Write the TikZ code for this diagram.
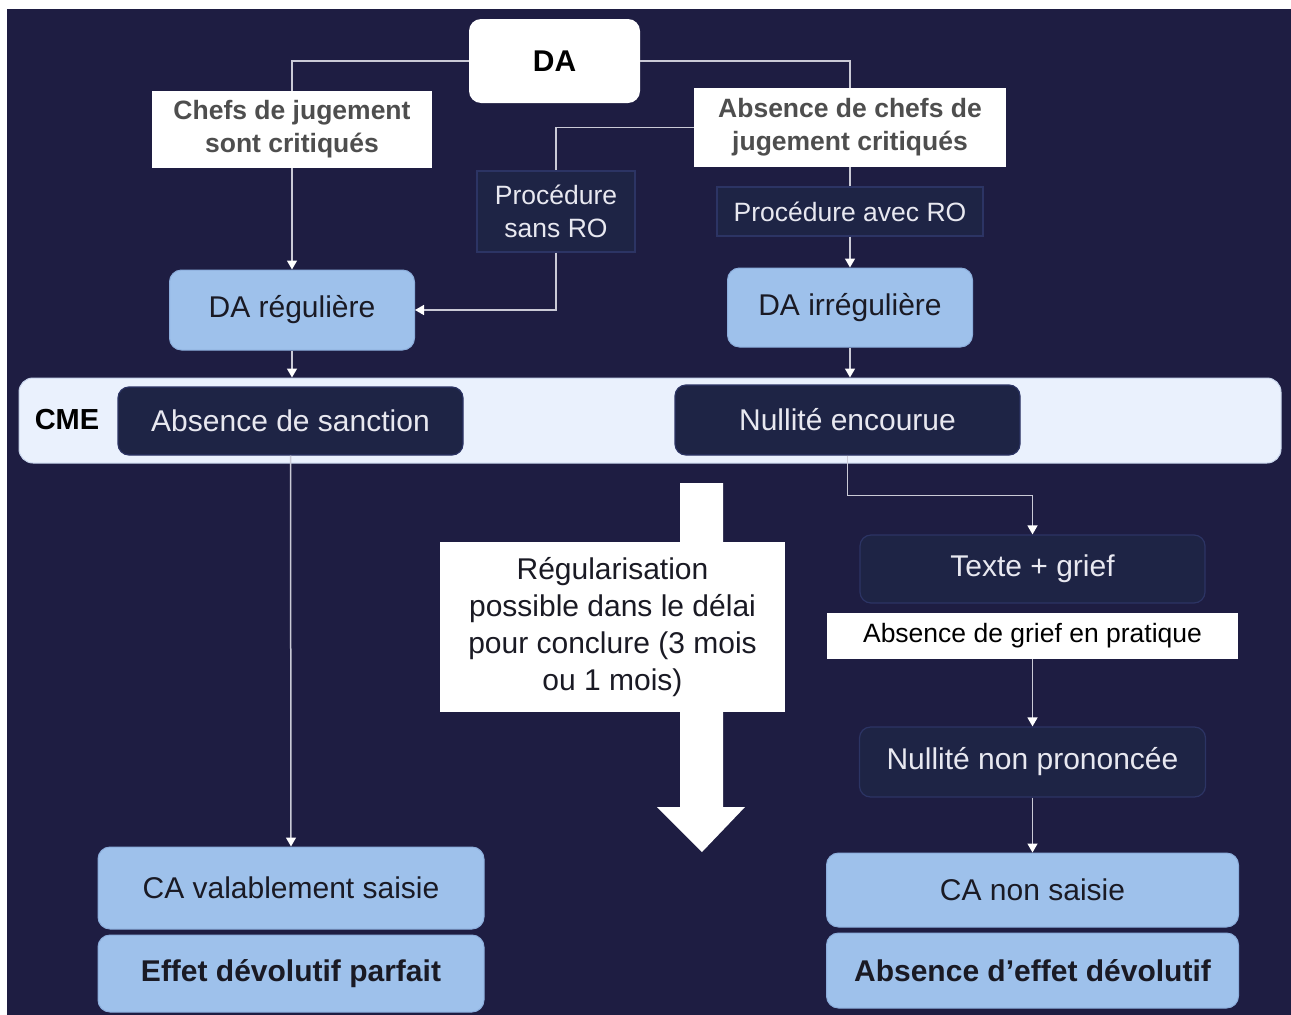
\documentclass[tikz,border=0pt]{standalone}
\usepackage{fontspec}
\setmainfont{Liberation Sans}
\usetikzlibrary{arrows.meta}
\definecolor{bg}{HTML}{1E1D42}
\definecolor{lightblue}{HTML}{9EC1EB}
\definecolor{lbborder}{HTML}{8CAEDC}
\definecolor{band}{HTML}{EAF1FD}
\definecolor{bandborder}{HTML}{C8D5EC}
\definecolor{darkbox}{HTML}{1E2445}
\definecolor{darkborder}{HTML}{2C3464}
\definecolor{conn}{HTML}{CACAD6}
\definecolor{graytext}{HTML}{4E4E4E}
\definecolor{darktext}{HTML}{1A1A24}
\definecolor{lighttext}{HTML}{E8E8F0}
\begin{document}
\begin{tikzpicture}[x=1pt,y=-1pt,
  base/.style={inner sep=0pt, align=center},
  bigfont/.style={font=\fontsize{30}{37}\selectfont},
  smallfont/.style={font=\fontsize{26.5}{33}\selectfont},
  whitelabel/.style={base, fill=white, text=graytext, smallfont, font=\fontsize{26.5}{33}\selectfont\bfseries},
  darklabel/.style={base, fill=darkbox, draw=darkborder, line width=1.2pt, text=lighttext, font=\fontsize{26.5}{33}\selectfont},
  lbbox/.style={base, fill=lightblue, draw=lbborder, line width=1pt, rounded corners=12pt, text=darktext, bigfont},
  dkbox/.style={base, fill=darkbox, draw=darkborder, line width=1.2pt, rounded corners=11pt, text=lighttext, bigfont},
  conline/.style={draw=conn, line width=1.5pt},
  arr/.style={conline, -{Triangle[width=10pt,length=9pt,fill=white,color=white]}}
]
\useasboundingbox (0,0) rectangle (1291,1015);
\fill[white] (0,0) rectangle (1291,1015);
\fill[bg] (7,9) rectangle (1291,1015);

% top
\node[base, fill=white, rounded corners=12pt, minimum width=171pt, minimum height=84pt, text=black, font=\fontsize{30}{36}\selectfont\bfseries] (da) at (554.5,61) {DA};
\node[whitelabel, minimum width=280pt, minimum height=77pt] (chefs) at (292,129.5) {Chefs de jugement\\sont critiqués};
\node[whitelabel, minimum width=312pt, minimum height=79pt] (absc) at (850,127.5) {Absence de chefs de\\jugement critiqués};
\node[darklabel, minimum width=158pt, minimum height=81pt] (psans) at (556,211.5) {Procédure\\sans RO};
\node[darklabel, minimum width=266pt, minimum height=49pt] (pavec) at (850,211.5) {Procédure avec RO};

\node[lbbox, minimum width=245pt, minimum height=80pt] (dareg) at (292,310) {DA régulière};
\node[lbbox, minimum width=245pt, minimum height=79pt] (dairr) at (850,307.5) {DA irrégulière};

% CME band
\node[base, fill=band, draw=bandborder, line width=1pt, rounded corners=14pt, minimum width=1262pt, minimum height=85pt] (band) at (650,420.5) {};
\node[base, text=black, font=\fontsize{29}{34}\selectfont\bfseries] (cme) at (67,420) {CME};
\node[dkbox, minimum width=345pt, minimum height=68pt] (absanc) at (290.5,421) {Absence de sanction};
\node[dkbox, minimum width=345pt, minimum height=70pt] (nullenc) at (847.5,420) {Nullité encourue};

% right column
\node[dkbox, minimum width=345pt, minimum height=68pt] (texte) at (1032.5,569) {Texte + grief};
\node[base, fill=white, text=black, minimum width=411pt, minimum height=46pt, font=\fontsize{26.5}{33}\selectfont] (agrief) at (1032.5,636) {Absence de grief en pratique};
\node[dkbox, minimum width=346pt, minimum height=70pt] (nnp) at (1032.5,762) {Nullité non prononcée};
\node[lbbox, minimum width=412pt, minimum height=74pt] (cans) at (1032.5,890) {CA non saisie};
\node[lbbox, minimum width=412pt, minimum height=75pt, font=\fontsize{30}{37}\selectfont\bfseries] (aed) at (1032.5,970.5) {Absence d’effet dévolutif};

% left column
\node[lbbox, minimum width=386pt, minimum height=82pt] (cavs) at (291,888) {CA valablement saisie};
\node[lbbox, minimum width=386pt, minimum height=77pt, font=\fontsize{30}{37}\selectfont\bfseries] (edp) at (291,973.5) {Effet dévolutif parfait};

% big arrow
\fill[white] (680,483) -- (723,483) -- (723,807) -- (745,807) -- (702,852) -- (657,807) -- (680,807) -- cycle;
\node[base, fill=white, text=darktext, minimum width=345pt, minimum height=170pt, bigfont] (regbox) at (612.5,627) {Régularisation\\possible dans le délai\\pour conclure (3 mois\\ou 1 mois)};

% connectors
\draw[conline] (da.west) -| (chefs.north);
\draw[arr] (chefs.south) -- (dareg.north);
\draw[conline] (da.east) -| (absc.north);
\draw[conline] (absc.west) -| (psans.north);
\draw[arr] (psans.south) |- (dareg.east);
\draw[conline] (absc.south) -- (pavec.north);
\draw[arr] (pavec.south) -- (dairr.north);
\draw[arr] (dareg.south) -- (dareg.south |- band.north);
\draw[arr] (dairr.south) -- (dairr.south |- band.north);
\draw[arr] (absanc.south) -- (cavs.north);
\draw[arr] (nullenc.south) -- ++(0,40) -| (texte.north);
\draw[arr] (agrief.south) -- (nnp.north);
\draw[arr] (nnp.south) -- (cans.north);
\end{tikzpicture}
\end{document}
